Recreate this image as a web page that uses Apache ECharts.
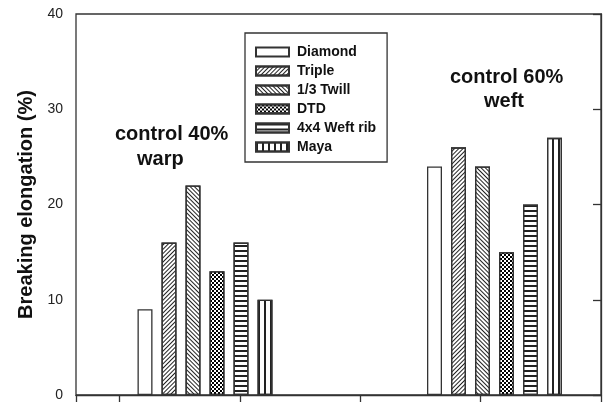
<!DOCTYPE html>
<html>
<head>
<meta charset="utf-8">
<script src="https://cdn.jsdelivr.net/npm/echarts@6/dist/echarts.min.js"></script>
<style>
html,body{margin:0;padding:0;background:#fff;}
#chart{width:604px;height:406px;}
</style>
</head>
<body>
<div id="chart"></div>
<script>
const groups = ['control 40% warp', 'control 60% weft'];
const seriesNames = ['Diamond', 'Triple', '1/3 Twill', 'DTD', '4x4 Weft rib', 'Maya'];
const diamond = [9, 24];
const triple = [16, 26];
const twill = [22, 24];
const dtd = [13, 15];
const weftRib = [16, 20];
const maya = [10, 27];
const yTicks = [0, 10, 20, 30, 40];
const yTitle = 'Breaking elongation (%)';

const values = [diamond, triple, twill, dtd, weftRib, maya];
const ink = '#222';
const decals = [
  null,
  {symbol: 'rect', symbolSize: 1, dashArrayX: [1, 0], dashArrayY: [1, 2], rotation: -Math.PI / 4, color: ink},
  {symbol: 'rect', symbolSize: 1, dashArrayX: [1, 0], dashArrayY: [1, 2], rotation: Math.PI / 4, color: ink},
  {symbol: 'rect', symbolSize: 1, dashArrayX: [[2, 2], [0, 2, 2, 0]], dashArrayY: [2, 0], rotation: 0, color: '#000'},
  {symbol: 'rect', symbolSize: 1, dashArrayX: [1, 0], dashArrayY: [2, 3], rotation: 0, color: ink},
  {symbol: 'rect', symbolSize: 1, dashArrayX: [1.5, 3.5], dashArrayY: [1, 0], rotation: 0, color: ink}
];

const chart = echarts.init(document.getElementById('chart'), null, {renderer: 'canvas'});
const option = {
  animation: false,
  backgroundColor: '#ffffff',
  textStyle: {fontFamily: 'Liberation Sans, Arial, sans-serif'},
  grid: [
    {left: 76, right: 3, top: 14, bottom: 11, show: true, borderColor: '#333', borderWidth: 1.3, backgroundColor: 'transparent'},
    {left: 205, right: 109.5, top: 14, bottom: 11}
  ],
  xAxis: [
    {
      gridIndex: 0, type: 'value', inverse: true, min: 0, max: 21.8, interval: 5,
      axisLine: {show: true, lineStyle: {color: '#333', width: 1.3}},
      axisTick: {show: true, length: 7, lineStyle: {color: '#333', width: 1.3}},
      axisLabel: {show: false}, splitLine: {show: false}
    },
    {gridIndex: 1, type: 'category', data: groups, boundaryGap: false, show: false}
  ],
  yAxis: [
    {
      gridIndex: 0, type: 'value', min: yTicks[0], max: yTicks[yTicks.length - 1], interval: 10,
      name: yTitle, nameLocation: 'middle', nameRotate: 90, nameGap: 37,
      nameTextStyle: {fontSize: 20, fontWeight: 'bold', color: '#111', fontFamily: 'Liberation Sans, Arial, sans-serif'},
      axisLine: {show: true, lineStyle: {color: '#333', width: 1.3}},
      axisTick: {show: true, length: 8, lineStyle: {color: '#333', width: 1.3}},
      axisLabel: {margin: 13, fontSize: 14, color: '#222', fontFamily: 'Liberation Sans, Arial, sans-serif'},
      splitLine: {show: false}
    },
    {gridIndex: 1, type: 'value', min: yTicks[0], max: yTicks[yTicks.length - 1], show: false}
  ],
  legend: {
    orient: 'vertical', left: 245, top: 33,
    data: seriesNames,
    icon: 'rect', itemWidth: 33, itemHeight: 9, itemGap: 3,
    padding: [11, 11, 7, 10],
    borderColor: '#333', borderWidth: 1.3, backgroundColor: '#fff',
    textStyle: {fontSize: 14, fontWeight: 'bold', color: '#111', lineHeight: 16, padding: [0, 0, 0, 3], fontFamily: 'Liberation Sans, Arial, sans-serif'},
    selectedMode: false
  },
  graphic: [
    {type: 'text', left: 115, top: 124, style: {text: 'control 40%', font: 'bold 20px "Liberation Sans", Arial, sans-serif', fill: '#111'}},
    {type: 'text', left: 137, top: 149, style: {text: 'warp', font: 'bold 20px "Liberation Sans", Arial, sans-serif', fill: '#111'}},
    {type: 'text', left: 450, top: 67, style: {text: 'control 60%', font: 'bold 20px "Liberation Sans", Arial, sans-serif', fill: '#111'}},
    {type: 'text', left: 484, top: 91, style: {text: 'weft', font: 'bold 20px "Liberation Sans", Arial, sans-serif', fill: '#111'}}
  ],
  series: seriesNames.map((name, i) => ({
    name: name,
    type: 'bar',
    xAxisIndex: 1, yAxisIndex: 1,
    data: values[i],
    barWidth: 15,
    barGap: '60%',
    clip: false,
    itemStyle: Object.assign({color: '#ffffff', borderColor: '#333', borderWidth: 1.3}, decals[i] ? {decal: decals[i]} : {}),
    emphasis: {disabled: true}
  }))
};
chart.setOption(option);
</script>
</body>
</html>
